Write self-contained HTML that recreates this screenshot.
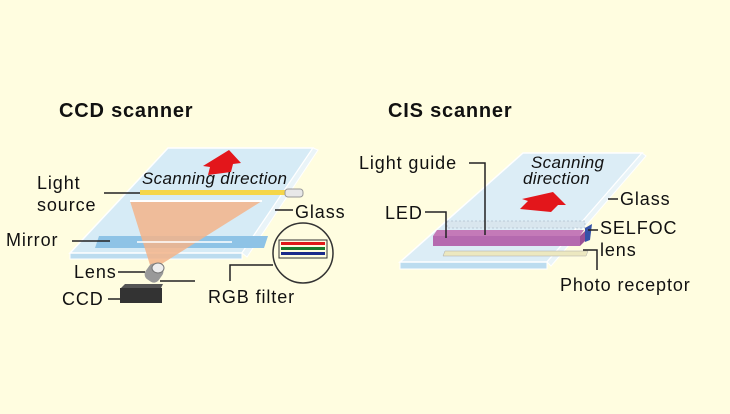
<!DOCTYPE html>
<html><head><meta charset="utf-8"><style>
html,body{margin:0;padding:0;background:#fffde0;}
svg{display:block;}
text{font-family:"Liberation Sans",sans-serif;fill:#111;}
.l{font-size:18px;letter-spacing:0.9px;}
</style></head><body>
<svg width="730" height="414" viewBox="0 0 730 414" xmlns="http://www.w3.org/2000/svg">
<rect width="730" height="414" fill="#fffde0"/>
<text x="59" y="117" font-size="20" font-weight="bold" letter-spacing="0.8">CCD scanner</text>
<text x="388" y="117" font-size="20" font-weight="bold" letter-spacing="0.8">CIS scanner</text>

<polygon points="70,253 242,253 242,259 70,259" fill="#bcdcef" stroke="#fff" stroke-width="1"/>
<polygon points="168,148 313,148 242,253 70,253" fill="#d6ebf6" stroke="#fff" stroke-width="1.5"/>
<polygon points="313,148 318,150 247,257 242,253" fill="#eaf4f8" stroke="#fff"/>
<polygon points="99,236 268,236 264,248 95,248" fill="#8ec3e6"/>
<polygon points="130,201 262,201 160,265 150,265" fill="#f3b48a" opacity="0.85"/>
<line x1="130" y1="201" x2="262" y2="201" stroke="#fff" stroke-width="2"/>
<line x1="137" y1="242" x2="232" y2="242" stroke="#fff" stroke-width="1.5"/>
<rect x="140" y="190" width="147" height="5" fill="#f5d64a"/>
<rect x="285" y="189" width="18" height="8" rx="3" fill="#e8e8e8" stroke="#999"/>
<polygon points="208,175 210,167 203,166 229,150 241,163 233,164 231,172" fill="#e3161b"/>
<text x="142" y="184" font-size="17" font-style="italic" letter-spacing="0.3">Scanning direction</text>
<rect x="146" y="264" width="16" height="18" rx="6" fill="#999" transform="rotate(35 154 273)"/>
<ellipse cx="158" cy="268" rx="6" ry="5" fill="#eee" stroke="#777"/>
<polygon points="121,288 161,288 163,284 125,284" fill="#555"/>
<rect x="120" y="288" width="42" height="15" fill="#333"/>
<circle cx="303" cy="253" r="30" fill="#fffde0" stroke="#333" stroke-width="1.5"/>
<rect x="281" y="242" width="44" height="3" fill="#e01818"/>
<rect x="281" y="247" width="44" height="3" fill="#1a7a2a"/>
<rect x="281" y="252" width="44" height="3" fill="#1a2a8a"/>
<rect x="279" y="240" width="48" height="18" fill="none" stroke="#333"/>
<g stroke="#222" stroke-width="1.5" fill="none">
<line x1="104" y1="193" x2="140" y2="193"/>
<line x1="72" y1="241" x2="110" y2="241"/>
<line x1="118" y1="272" x2="145" y2="272"/>
<line x1="108" y1="299" x2="120" y2="299"/>
<line x1="275" y1="210" x2="293" y2="210"/>
<polyline points="230,281 230,265 273,265"/>
<line x1="160" y1="281" x2="195" y2="281"/>
</g>
<text class="l" x="37" y="189">Light</text>
<text class="l" x="37" y="211">source</text>
<text class="l" x="6" y="246">Mirror</text>
<text class="l" x="74" y="278">Lens</text>
<text class="l" x="62" y="305">CCD</text>
<text class="l" x="295" y="218">Glass</text>
<text class="l" x="208" y="303">RGB filter</text>

<polygon points="400,262 547,262 547,269 400,269" fill="#bcdcef" stroke="#fff"/>
<polygon points="523,153 642,153 547,262 400,262" fill="#dcedf6" stroke="#fff" stroke-width="1.5"/>
<polygon points="642,153 646,156 551,266 547,262" fill="#eaf4f8" stroke="#fff"/>
<polygon points="445,251 588,251 586,256 443,256" fill="#ece8c0" stroke="#aaa" stroke-width="0.5"/>
<polygon points="433,236 580,236 584,230 437,230" fill="#c47ab8"/>
<rect x="433" y="236" width="147" height="10" fill="#b56aaf"/>
<polygon points="580,246 590,236 590,226 580,236" fill="#9a4f95"/>
<polygon points="585,228 592,224 590,240 585,242" fill="#3552a8"/>
<rect x="447" y="221" width="138" height="7" fill="#d9e6ee" stroke="#9ab" stroke-width="0.5" stroke-dasharray="2,2"/>
<polygon points="520,209 528,201 522,199 553,192 566,205 558,205 551,212" fill="#e3161b"/>
<text x="531" y="168" font-size="17" font-style="italic" letter-spacing="0.3">Scanning</text>
<text x="523" y="184" font-size="17" font-style="italic" letter-spacing="0.3">direction</text>
<g stroke="#222" stroke-width="1.5" fill="none">
<polyline points="469,163 485,163 485,235"/>
<polyline points="425,212 446,212 446,238"/>
<line x1="608" y1="199" x2="618" y2="199"/>
<line x1="588" y1="230" x2="598" y2="230"/>
<polyline points="583,250 597,250 597,270"/>
</g>
<text class="l" x="359" y="169">Light guide</text>
<text class="l" x="385" y="219">LED</text>
<text class="l" x="620" y="205">Glass</text>
<text class="l" x="600" y="234">SELFOC</text>
<text class="l" x="600" y="256">lens</text>
<text class="l" x="560" y="291">Photo receptor</text>
</svg>
</body></html>
